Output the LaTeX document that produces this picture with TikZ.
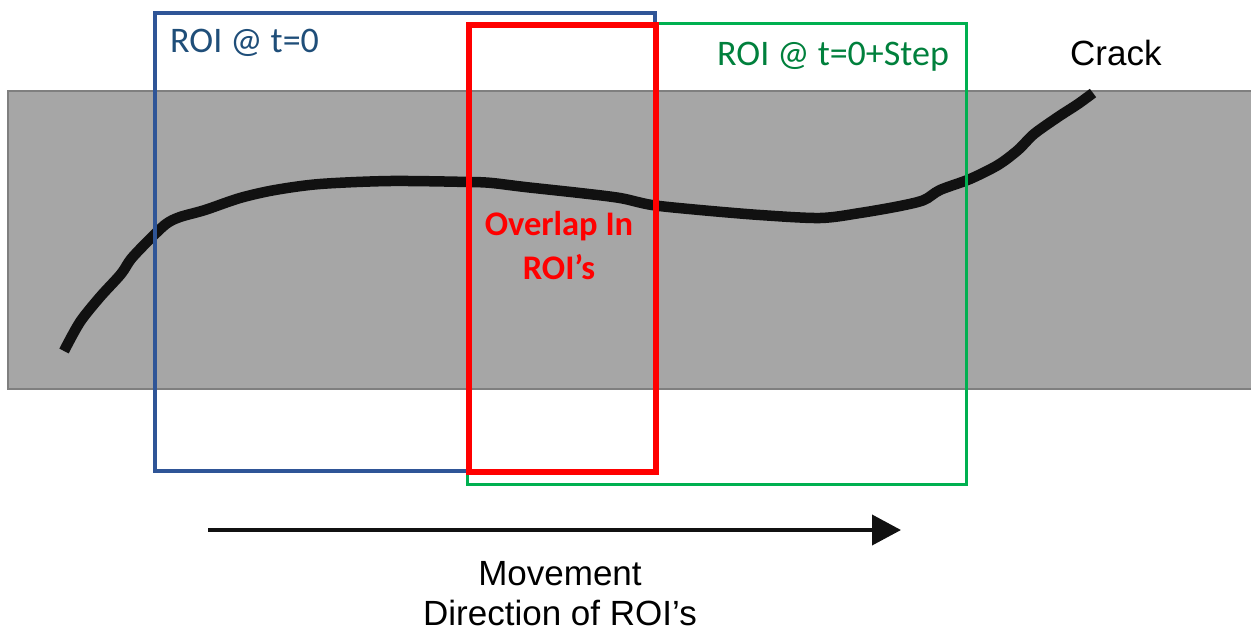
\documentclass[tikz,border=0pt]{standalone}
\usepackage{fontspec}
\setmainfont{Liberation Sans}
\newfontfamily\calib{Carlito}
\usetikzlibrary{arrows.meta}
\definecolor{bandgray}{HTML}{A6A6A6}
\definecolor{bandedge}{HTML}{7F7F7F}
\definecolor{roiblue}{HTML}{2F5597}
\definecolor{roibluetext}{HTML}{1F4E79}
\definecolor{roigreen}{HTML}{00B050}
\definecolor{roigreentext}{HTML}{00803C}
\definecolor{crackblack}{HTML}{111111}
\tikzset{
  roibox/.style={draw, inner sep=0pt, anchor=north west, fill=none},
  roilabel/.style={inner sep=0pt, anchor=base west, font=\calib\fontsize{36}{40}\selectfont},
  plainlabel/.style={inner sep=0pt, font=\fontsize{35}{40}\selectfont, align=center},
}
\begin{document}
\begin{tikzpicture}[x=1pt, y=-1pt]
\useasboundingbox (0,0) rectangle (1251,633);
% specimen band
\fill[bandgray] (8,91) rectangle (1251,389);
\draw[bandedge, line width=1.5pt] (1251,91) -- (8,91) -- (8,389) -- (1251,389);
% crack
\draw[crackblack, line width=10.5pt, line join=round]
  plot[smooth, tension=0.5] coordinates {
    (64,351) (80,322) (100,297) (121,274) (131,259) (148,241) (166,224)
    (180,217) (205,210) (240,198) (275,190) (320,184) (390,181) (470,182)
    (492,183) (525,187) (580,193) (620,198) (652,205) (700,210) (760,215)
    (820,218) (860,213) (900,206) (924,200) (940,190) (970,179) (998,165)
    (1018,150) (1034,134) (1058,117) (1078,104) (1093,93)};
% regions of interest
\node[roibox, roiblue, line width=3.5pt, minimum width=500pt, minimum height=458pt] (roi0) at (153,11) {};
\node[roibox, roigreen, line width=3pt, minimum width=499pt, minimum height=461pt] (roi1) at (466,22) {};
\node[roibox, red, line width=5.5pt, minimum width=187pt, minimum height=447pt] (overlap) at (466,22) {};
% labels
\node[roilabel, roibluetext] (lab0) at (170,52) {ROI @ t=0};
\node[roilabel, roigreentext] (lab1) at (717,65) {ROI @ t=0+Step};
\node[inner sep=0pt, anchor=base west, font=\fontsize{35}{40}\selectfont] (crack) at (1070,65) {Crack};
\node[inner sep=0pt, anchor=base, red, align=center, font=\calib\bfseries\fontsize{34.5}{44}\selectfont] (ovl) at (559,279) {Overlap In\\ROI’s};
% movement arrow
\coordinate (mstart) at (208,530);
\coordinate (mend) at (901,530);
\draw[crackblack, line width=4pt, -{Triangle[length=29pt, width=30pt]}] (mstart) -- (mend);
\node[plainlabel, anchor=base] (move) at (560,625) {Movement\\Direction of ROI’s};
\end{tikzpicture}
\end{document}
